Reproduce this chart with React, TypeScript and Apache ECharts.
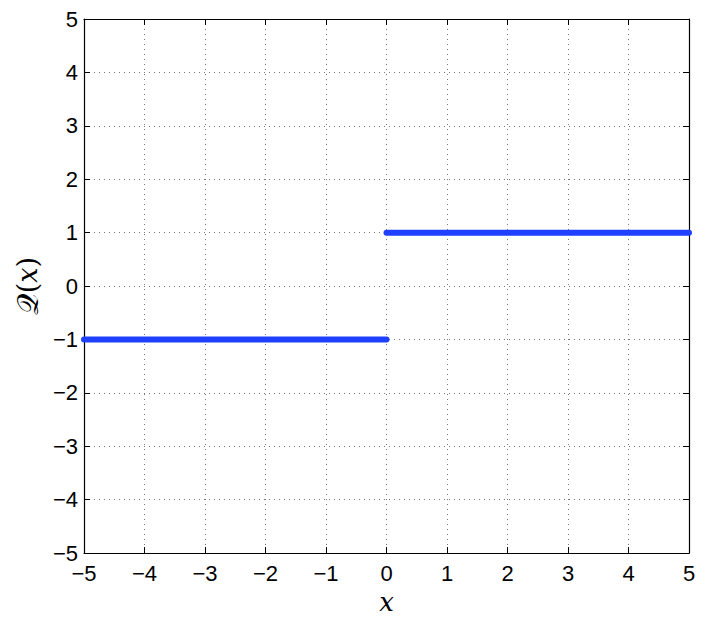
import React, { useEffect, useRef } from "react";
import * as echarts from "echarts";

const xTicks = [-5, -4, -3, -2, -1, 0, 1, 2, 3, 4, 5];
const negSegmentX = [-5, 0];
const negSegmentY = [-1, -1];
const posSegmentX = [0, 5];
const posSegmentY = [1, 1];
const xName = "x";

const fmt = (v: number) => String(v).replace("-", "−");

export default function App() {
  const ref = useRef<HTMLDivElement>(null);
  useEffect(() => {
    document.body.style.margin = "0";
    const chart = echarts.init(ref.current!, null, { renderer: "svg" });
    const labelFont = { fontSize: 22, color: "#000", fontFamily: "Liberation Sans, Arial, sans-serif" };
    const tick = { show: true, inside: true, length: 6, lineStyle: { color: "#000", width: 1 } };
    const axisLine = { show: true, onZero: false, lineStyle: { color: "#000", width: 1.2 } };
    const split = { show: true, lineStyle: { color: "#777", width: 1, type: [1, 4] as any } };
    chart.setOption({
      animation: false,
      backgroundColor: "#fff",
      grid: { left: 84, right: 17, top: 19, bottom: 61, containLabel: false },
      xAxis: [
        {
          type: "value", min: xTicks[0], max: xTicks[xTicks.length - 1], interval: 1,
          axisLine, axisTick: tick, splitLine: split,
          axisLabel: { ...labelFont, margin: 9, formatter: fmt },
          name: xName, nameLocation: "middle", nameGap: 31,
          nameTextStyle: { fontSize: 26, fontStyle: "italic", fontFamily: "DejaVu Serif, serif", color: "#000" },
        },
        {
          type: "value", position: "top", min: -5, max: 5, interval: 1,
          axisLine, axisTick: tick, splitLine: { show: false }, axisLabel: { show: false },
        },
      ],
      yAxis: [
        {
          type: "value", min: -5, max: 5, interval: 1,
          axisLine, axisTick: tick, splitLine: split,
          axisLabel: { ...labelFont, margin: 6, formatter: fmt },
          name: "{q|𝒬}{p|(}{x|x}{p|)}", nameLocation: "middle", nameGap: 40, nameRotate: 90,
          nameTextStyle: {
            color: "#000",
            rich: {
              q: { fontSize: 30, fontFamily: "DejaVu Serif, serif", color: "#000" },
              p: { fontSize: 27, fontFamily: "DejaVu Serif, serif", color: "#000" },
              x: { fontSize: 27, fontStyle: "italic", fontFamily: "DejaVu Serif, serif", color: "#000" },
            },
          },
        },
        {
          type: "value", position: "right", min: -5, max: 5, interval: 1,
          axisLine, axisTick: tick, splitLine: { show: false }, axisLabel: { show: false },
        },
      ],
      series: [
        {
          type: "line", xAxisIndex: 0, yAxisIndex: 0,
          data: negSegmentX.map((x, i) => [x, negSegmentY[i]]),
          showSymbol: false, lineStyle: { color: "#2040ff", width: 6, cap: "round" },
        },
        {
          type: "line", xAxisIndex: 0, yAxisIndex: 0,
          data: posSegmentX.map((x, i) => [x, posSegmentY[i]]),
          showSymbol: false, lineStyle: { color: "#2040ff", width: 6, cap: "round" },
        },
      ],
    });
    return () => chart.dispose();
  }, []);
  return <div ref={ref} style={{ width: 706, height: 620 }} />;
}
